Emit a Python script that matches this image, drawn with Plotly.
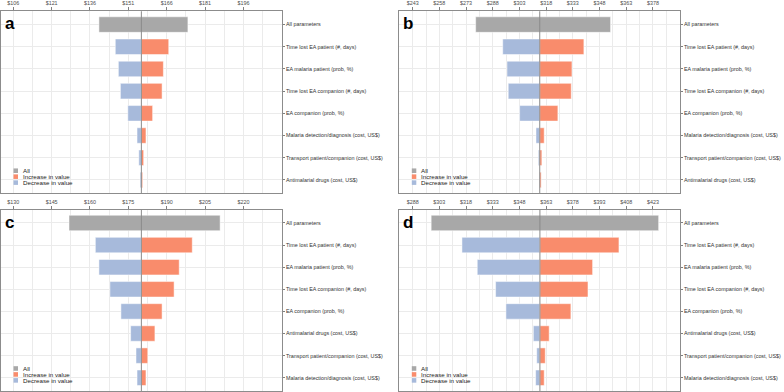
import plotly.graph_objects as go

# ---------------- data ----------------
params_ab = ["All parameters", "Time lost EA patient (#, days)", "EA malaria patient (prob, %)",
             "Time lost EA companion (#, days)", "EA companion (prob, %)",
             "Malaria detection/diagnosis (cost, US$)", "Transport patient/companion (cost, US$)",
             "Antimalarial drugs (cost, US$)"]
params_cd = ["All parameters", "Time lost EA patient (#, days)", "EA malaria patient (prob, %)",
             "Time lost EA companion (#, days)", "EA companion (prob, %)",
             "Antimalarial drugs (cost, US$)", "Transport patient/companion (cost, US$)",
             "Malaria detection/diagnosis (cost, US$)"]

a_base = 156.1
a_low = [139.5, 145.9, 147.1, 147.9, 150.8, 154.4, 155.1, 155.6]
a_high = [174.3, 166.8, 164.7, 164.2, 160.5, 157.9, 157.0, 156.6]
a_ticks = [106, 121, 136, 151, 166, 181, 196]

b_base = 314.4
b_low = [278.4, 293.6, 296.0, 296.7, 303.1, 312.3, 313.6, 314.1]
b_high = [354.2, 339.2, 332.5, 332.1, 324.6, 316.9, 315.6, 315.2]
b_ticks = [243, 258, 273, 288, 303, 318, 333, 348, 363, 378]

c_base = 180.1
c_low = [151.8, 162.1, 163.5, 167.8, 172.1, 175.9, 178.0, 178.4]
c_high = [210.9, 200.0, 194.9, 192.9, 188.2, 185.4, 182.6, 181.9]
c_ticks = [130, 145, 160, 175, 190, 205, 220]

d_base = 359.5
d_low = [298.4, 315.7, 324.3, 334.6, 340.4, 355.8, 357.7, 357.1]
d_high = [426.2, 403.9, 389.1, 386.5, 376.9, 364.7, 362.5, 361.9]
d_ticks = [288, 303, 318, 333, 348, 363, 378, 393, 408, 423]

legend_labels = ["All", "Increase in value", "Decrease in value"]

# ---------------- style ----------------
W, H = 784, 392
C_ALL = "#A8A8A8"
C_INC = "#F98C6C"
C_DEC = "#A7BADB"
GRID = "#EBEBEB"
BORDER = "#8C8C8C"
FONT = "Liberation Sans, Arial, sans-serif"

panels = [
    dict(letter="a", cats=params_ab, base=a_base, low=a_low, high=a_high, ticks=a_ticks,
         rng=[101.2, 211.1], px=(1, 282), py=(8.3, 191.7)),
    dict(letter="b", cats=params_ab, base=b_base, low=b_low, high=b_high, ticks=b_ticks,
         rng=[235.5, 393.2], px=(399.3, 680), py=(8.3, 191.7)),
    dict(letter="c", cats=params_cd, base=c_base, low=c_low, high=c_high, ticks=c_ticks,
         rng=[125.2, 235.1], px=(1, 282), py=(208.3, 391)),
    dict(letter="d", cats=params_cd, base=d_base, low=d_low, high=d_high, ticks=d_ticks,
         rng=[280.5, 438.2], px=(399.3, 680), py=(208.3, 391)),
]

fig = go.Figure()
shapes = []
annotations = []
layout = {}

for i, p in enumerate(panels, start=1):
    sfx = "" if i == 1 else str(i)
    xa, ya = "x" + sfx, "y" + sfx
    cats = p["cats"]
    base = p["base"]
    # All parameters bar
    fig.add_trace(go.Bar(
        y=[cats[0]], x=[p["high"][0] - p["low"][0]], base=[p["low"][0]],
        orientation="h", marker=dict(color=C_ALL, line=dict(color="white", width=0.5)),
        width=0.7, xaxis=xa, yaxis=ya, showlegend=False, name="All"))
    # Decrease bars
    fig.add_trace(go.Bar(
        y=cats[1:], x=[base - v for v in p["low"][1:]], base=p["low"][1:],
        orientation="h", marker=dict(color=C_DEC, line=dict(color="white", width=0.5)),
        width=0.7, xaxis=xa, yaxis=ya, showlegend=False, name="Decrease in value"))
    # Increase bars
    fig.add_trace(go.Bar(
        y=cats[1:], x=[v - base for v in p["high"][1:]], base=[base] * (len(cats) - 1),
        orientation="h", marker=dict(color=C_INC, line=dict(color="white", width=0.5)),
        width=0.7, xaxis=xa, yaxis=ya, showlegend=False, name="Increase in value"))

    x0, x1 = p["px"]
    y0, y1 = p["py"]
    layout["xaxis" + sfx] = dict(
        domain=[x0 / W, x1 / W], anchor=ya, side="top", range=p["rng"],
        tickmode="array", tickvals=p["ticks"], ticktext=["$%d" % t for t in p["ticks"]],
        ticks="outside", ticklen=3, tickwidth=0.6, tickcolor="#7F7F7F",
        tickfont=dict(size=5.4, color="#4D4D4D", family=FONT),
        showgrid=True, gridcolor=GRID, gridwidth=0.8,
        minor=dict(tickmode="linear", tick0=p["ticks"][0], dtick=7.5, showgrid=True,
                   gridcolor=GRID, gridwidth=0.6, ticks=""),
        showline=True, mirror=True, linecolor=BORDER, linewidth=0.8,
        zeroline=False, fixedrange=True)
    layout["yaxis" + sfx] = dict(
        domain=[1 - y1 / H, 1 - y0 / H], anchor=xa, side="right",
        type="category", categoryorder="array", categoryarray=cats,
        range=[len(cats) - 0.4, -0.6],
        ticks="outside", ticklen=2, tickwidth=0.6, tickcolor="#7F7F7F",
        tickfont=dict(size=5.4, color="#333333", family=FONT),
        showgrid=True, gridcolor=GRID, gridwidth=0.8,
        showline=True, mirror=True, linecolor=BORDER, linewidth=0.8,
        zeroline=False, fixedrange=True)

    # base-value line
    shapes.append(dict(type="line", xref=xa, yref=ya + " domain", x0=base, x1=base,
                       y0=0, y1=1, line=dict(color="#8A8A8A", width=1), layer="above"))
    # panel letter
    annotations.append(dict(text="<b>%s</b>" % p["letter"], xref="paper", yref="paper",
                            x=(x0 + 1.5) / W, y=1 - (y0 + 1) / H, xanchor="left", yanchor="top",
                            showarrow=False, font=dict(size=17, color="black", family=FONT)))
    # legend (inside, bottom-left)
    for k, (lab, col) in enumerate(zip(legend_labels, [C_ALL, C_INC, C_DEC])):
        cy = y1 - 22.7 + 6 * k
        shapes.append(dict(type="rect", xref="paper", yref="paper",
                           x0=(x0 + 12.5) / W, x1=(x0 + 17) / W,
                           y0=1 - (cy + 2.3) / H, y1=1 - (cy - 2.3) / H,
                           fillcolor=col, line=dict(width=0), layer="above"))
        annotations.append(dict(text=lab, xref="paper", yref="paper",
                                x=(x0 + 20) / W, y=1 - cy / H, xanchor="left", yanchor="middle",
                                showarrow=False, font=dict(size=6.2, color="#1A1A1A", family=FONT)))

fig.update_layout(
    width=W, height=H, margin=dict(l=0, r=0, t=0, b=0),
    paper_bgcolor="white", plot_bgcolor="white",
    barmode="overlay", bargap=0.3, showlegend=False,
    shapes=shapes, annotations=annotations,
    font=dict(family=FONT),
    **layout)

fig.write_html("out.html", config={"displayModeBar": False},
               post_script="document.body.style.margin='0';document.body.style.overflow='hidden';")
